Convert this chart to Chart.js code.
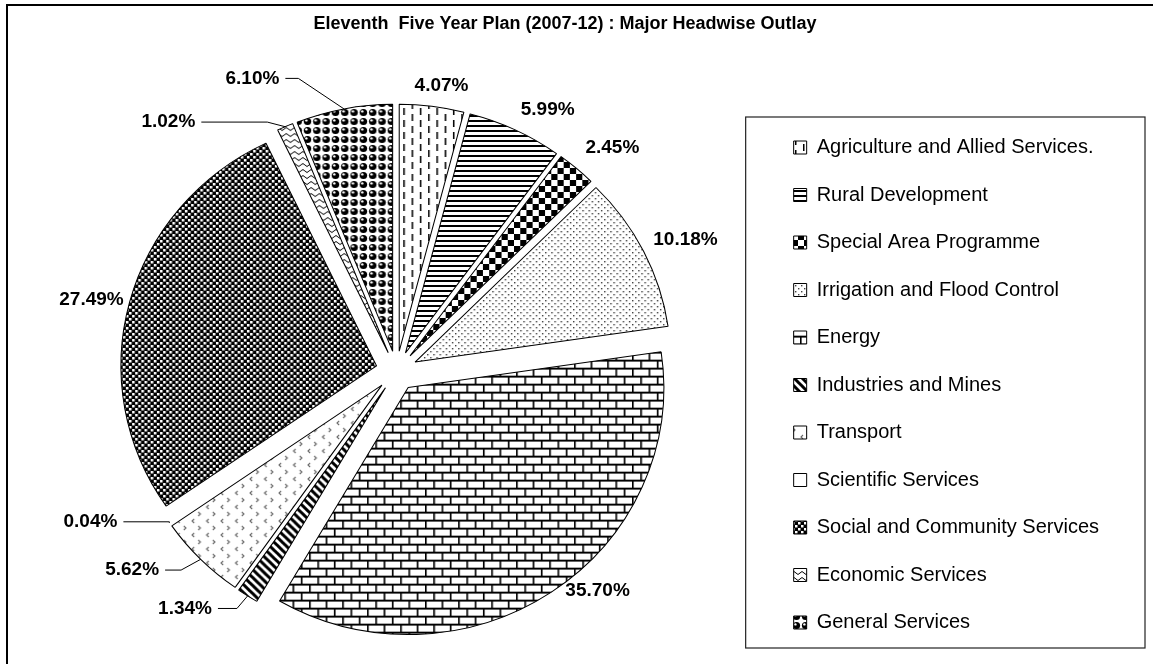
<!DOCTYPE html>
<html>
<head>
<meta charset="utf-8">
<title>Eleventh Five Year Plan (2007-12) : Major Headwise Outlay</title>
<script src="https://cdn.jsdelivr.net/npm/chart.js@4.4.1/dist/chart.umd.min.js"></script>
<style>
  html, body { margin: 0; padding: 0; background: #fff; }
  #caixa { position: relative; width: 1153px; height: 664px; }
</style>
</head>
<body>
<div id="caixa"><canvas id="graficoPizza"></canvas></div>
<script>
// dados (ordem horaria a partir do topo)
const categorias = [
    'Agriculture and Allied Services.',
    'Rural Development',
    'Special Area Programme',
    'Irrigation and Flood Control',
    'Energy',
    'Industries and Mines',
    'Transport',
    'Scientific Services',
    'Social and Community Services',
    'Economic Services',
    'General Services'
];
const percentuais = [4.07, 5.99, 2.45, 10.18, 35.70, 1.34, 5.62, 0.04, 27.49, 1.02, 6.10];
const rotulos = ['4.07%', '5.99%', '2.45%', '10.18%', '35.70%', '1.34%', '5.62%', '0.04%', '27.49%', '1.02%', '6.10%'];
const titulo = 'Eleventh  Five Year Plan (2007-12) : Major Headwise Outlay';

// aparencia
const FONTE = "'Liberation Sans', Arial, Helvetica, sans-serif";
const RAIO = 247;
const EXPLOSAO = 20;       // afastamento das fatias
const ESTICA_X = 1.035;    // a pizza original e levemente achatada
const DESLOC_CENTRO = { x: 3, y: 0 };
const DIST_ROTULO = 28;
// ajuste fino de cada rotulo [dx, dy]
const ajusteRotulos = [
    [6, 7], [20, 5], [17, 1], [16, 1], [30, -25],
    [-47, -11], [-48, -9], [-55, -17], [-10, 5], [-105, 21], [-86, -3]
];
// comprimento do trecho horizontal das linhas de chamada
const chamadas = { 5: 19, 6: 16, 7: 46, 9: 66, 10: 13 };

function criaPadrao(w, h, desenha) {
    const c = document.createElement('canvas');
    c.width = w;
    c.height = h;
    const g = c.getContext('2d');
    g.fillStyle = '#fff';
    g.fillRect(0, 0, w, h);
    g.fillStyle = '#000';
    g.strokeStyle = '#000';
    desenha(g);
    return g.createPattern(c, 'repeat');
}

const padroes = [
    // tracos verticais
    criaPadrao(16, 12, g => {
        g.fillRect(3, 0, 1.5, 7);
        g.fillRect(11, 6, 1.5, 6);
        g.fillRect(11, 0, 1.5, 1);
    }),
    // linhas horizontais
    criaPadrao(4, 5, g => { g.fillRect(0, 0, 4, 2); }),
    // xadrez grande
    criaPadrao(12, 12, g => { g.fillRect(0, 0, 6, 6); g.fillRect(6, 6, 6, 6); }),
    // pontilhado
    criaPadrao(6, 6, g => {
        g.fillStyle = '#444';
        g.fillRect(0, 0, 1.4, 1.4);
        g.fillRect(3, 3, 1.4, 1.4);
    }),
    // tijolos
    criaPadrao(16, 16, g => {
        g.fillStyle = '#aaa';
        g.fillRect(0, 7, 16, 1);
        g.fillRect(0, 15, 16, 1);
        g.fillStyle = '#000';
        g.fillRect(0, 0, 16, 1.6);
        g.fillRect(0, 8, 16, 1.6);
        g.fillRect(0, 0, 1.6, 8);
        g.fillRect(8, 8, 1.6, 8);
    }),
    // diagonal larga
    criaPadrao(8, 8, g => {
        g.lineWidth = 3;
        g.beginPath();
        g.moveTo(-1, -1); g.lineTo(9, 9);
        g.moveTo(7, -1); g.lineTo(9, 1);
        g.moveTo(-1, 7); g.lineTo(1, 9);
        g.stroke();
    }),
    // divisas espacadas
    criaPadrao(14, 14, g => {
        g.strokeStyle = '#666';
        g.lineWidth = 1.1;
        g.beginPath();
        g.moveTo(5, 1); g.lineTo(3, 3); g.lineTo(5, 5);
        g.moveTo(9, 8); g.lineTo(11, 10); g.lineTo(9, 12);
        g.stroke();
    }),
    // branco
    '#ffffff',
    // xadrez pequeno
    criaPadrao(6, 6, g => {
        g.fillRect(0, 0, 6, 6);
        g.fillStyle = '#fff';
        g.fillRect(0, 0, 2.5, 2.5);
        g.fillRect(3, 3, 2.5, 2.5);
    }),
    // ondas
    criaPadrao(8, 6, g => {
        g.lineWidth = 1;
        g.beginPath();
        g.moveTo(0, 3);
        g.quadraticCurveTo(2, 0, 4, 3);
        g.quadraticCurveTo(6, 6, 8, 3);
        g.stroke();
    }),
    // esferas
    criaPadrao(9, 9, g => {
        g.beginPath(); g.arc(4.5, 4.5, 3.6, 0, Math.PI * 2); g.fill();
        g.fillStyle = '#fff';
        g.beginPath(); g.arc(3.4, 3.4, 1.2, 0, Math.PI * 2); g.fill();
    })
];

// moldura externa e caixa da legenda
const pluginMoldura = {
    id: 'moldura',
    afterDraw(chart) {
        const g = chart.ctx;
        g.save();
        g.strokeStyle = '#000';
        g.lineWidth = 2;
        g.strokeRect(7, 5, 1200, 700);
        const hb = chart.legend.legendHitBoxes;
        if (hb && hb.length) {
            const ult = hb[hb.length - 1];
            g.lineWidth = 1.2;
            g.strokeStyle = '#222';
            g.strokeRect(hb[0].left - 48, hb[0].top - 20.5,
                chart.legend.right + 36 - (hb[0].left - 48),
                ult.top + 35.5 - (hb[0].top - 20.5));
        }
        g.restore();
    }
};

// fatias explodidas + rotulos
const pluginPizza = {
    id: 'pizzaExplodida',
    afterDatasetsUpdate(chart) {
        const arcos = chart.getDatasetMeta(0).data;
        if (!arcos.length) return;
        const cx = arcos[0].x + DESLOC_CENTRO.x;
        const cy = arcos[0].y + DESLOC_CENTRO.y;
        chart.$centro = { x: cx, y: cy };
        arcos.forEach(a => {
            const meio = (a.startAngle + a.endAngle) / 2;
            a.x = cx + Math.cos(meio) * EXPLOSAO;
            a.y = cy + Math.sin(meio) * EXPLOSAO;
        });
    },
    beforeDatasetsDraw(chart) {
        const c = chart.$centro;
        const g = chart.ctx;
        g.save();
        g.translate(c.x, 0);
        g.scale(ESTICA_X, 1);
        g.translate(-c.x, 0);
    },
    afterDatasetsDraw(chart) {
        const g = chart.ctx;
        g.restore();
        const c = chart.$centro;
        const arcos = chart.getDatasetMeta(0).data;
        g.save();
        g.font = 'bold 19px ' + FONTE;
        g.fillStyle = '#000';
        g.strokeStyle = '#000';
        g.lineWidth = 1;
        g.textAlign = 'center';
        g.textBaseline = 'middle';
        arcos.forEach((a, i) => {
            const meio = (a.startAngle + a.endAngle) / 2;
            const px = r => c.x + ESTICA_X * r * Math.cos(meio);
            const py = r => c.y + r * Math.sin(meio);
            const rl = a.outerRadius + EXPLOSAO + DIST_ROTULO;
            const lx = px(rl) + ajusteRotulos[i][0];
            const ly = py(rl) + ajusteRotulos[i][1];
            g.fillText(rotulos[i], lx, ly);
            if (chamadas[i] !== undefined) {
                const w = g.measureText(rotulos[i]).width;
                const x0 = lx + w / 2 + 6;
                const re = a.outerRadius + EXPLOSAO;
                g.beginPath();
                g.moveTo(x0, ly);
                g.lineTo(x0 + chamadas[i], ly);
                g.lineTo(px(re), py(re));
                g.stroke();
            }
        });
        g.restore();
    }
};

const grafico = new Chart(document.getElementById('graficoPizza'), {
    type: 'pie',
    data: {
        labels: categorias,
        datasets: [{
            data: percentuais,
            backgroundColor: padroes,
            borderColor: '#000',
            borderWidth: ctx => (percentuais[ctx.dataIndex] < 0.1 ? 0 : 1),
            radius: RAIO,
            clip: false
        }]
    },
    options: {
        responsive: true,
        maintainAspectRatio: false,
        animation: false,
        events: [],
        layout: { padding: { left: 21, right: 44, top: 0, bottom: 4 } },
        plugins: {
            title: {
                display: true,
                text: titulo,
                color: '#000',
                font: { family: FONTE, size: 18, weight: 'bold' },
                padding: { top: 13.2, bottom: 47.2 }
            },
            legend: {
                position: 'right',
                align: 'end',
                labels: {
                    boxWidth: 13,
                    boxHeight: 13,
                    padding: 27.5,
                    color: '#000',
                    font: { family: FONTE, size: 20 },
                    generateLabels: chart => {
                        const itens = Chart.overrides.doughnut.plugins.legend.labels.generateLabels(chart);
                        itens.forEach(it => { it.lineWidth = 1; it.strokeStyle = '#000'; });
                        return itens;
                    }
                }
            },
            tooltip: { enabled: false }
        }
    },
    plugins: [pluginMoldura, pluginPizza]
});
</script>
</body>
</html>
